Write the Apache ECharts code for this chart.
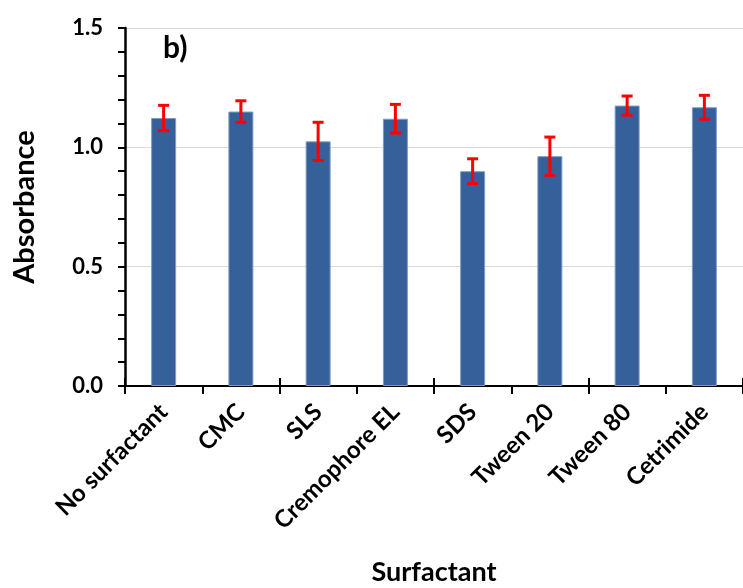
<!doctype html>
<html lang="en">
<head>
    <meta charset="UTF-8">
    <title>Absorbance by surfactant</title>
    <style>
        body { margin: 0; background: #fff; }
        #main { width: 743px; height: 588px; }
    </style>
</head>
<body>
<div id="main"></div>
<script src="https://cdn.jsdelivr.net/npm/echarts@6/dist/echarts.min.js"></script>
<script>
    var categories = ['No surfactant', 'CMC', 'SLS', 'Cremophore EL', 'SDS', 'Tween 20', 'Tween 80', 'Cetrimide'];
    var absorbance = [1.123, 1.15, 1.025, 1.12, 0.90, 0.963, 1.175, 1.168];
    var errors = [0.053, 0.045, 0.08, 0.06, 0.052, 0.08, 0.04, 0.05];
    var yTicks = [0, 0.5, 1.0, 1.5];

    var font = 'Lato, "Open Sans", sans-serif';

    // error bar data: [index, low, high]
    var errData = absorbance.map(function (v, i) {
        return [i, v - errors[i], v + errors[i]];
    });

    var myChart = echarts.init(document.getElementById('main'));
    var option = {
        animation: false,
        grid: { left: 125, right: 0, top: 28, bottom: 202, outerBoundsMode: 'none' },
        graphic: [{
            type: 'text', left: 163, top: 33,
            style: { text: 'b)', font: 'bold 30px ' + font, fill: '#000' }
        }],
        xAxis: [{
            type: 'category',
            data: categories,
            name: 'Surfactant',
            nameLocation: 'middle',
            nameGap: 173,
            nameTextStyle: { fontFamily: font, fontWeight: 'bold', fontSize: 27, color: '#000' },
            axisLine: { show: true, lineStyle: { color: '#000', width: 2 } },
            axisTick: { show: true, length: 8, lineStyle: { color: '#000', width: 2 } },
            axisLabel: { rotate: 45, margin: 22, fontFamily: font, fontWeight: 'bold', fontSize: 24, color: '#000', interval: 0 }
        }, {
            type: 'category',
            data: categories,
            position: 'bottom',
            axisLine: { show: false },
            axisTick: { show: true, inside: true, length: 8, lineStyle: { color: '#000', width: 2 } },
            axisLabel: { show: false }
        }],
        yAxis: {
            type: 'value',
            min: yTicks[0],
            max: yTicks[yTicks.length - 1],
            interval: 0.5,
            name: 'Absorbance',
            nameLocation: 'middle',
            nameGap: 86,
            nameTextStyle: { fontFamily: font, fontWeight: 'bold', fontSize: 29, color: '#000' },
            axisLine: { show: true, lineStyle: { color: '#000', width: 2.5 } },
            axisTick: { show: true, length: 7, lineStyle: { color: '#000', width: 2 } },
            minorTick: { show: true, splitNumber: 5, length: 7, lineStyle: { color: '#000', width: 2 } },
            splitLine: { show: true, lineStyle: { color: '#d9d9d9', width: 1 } },
            axisLabel: {
                margin: 22, fontFamily: font, fontWeight: 'bold', fontSize: 22, color: '#000',
                formatter: function (v) { return v.toFixed(1); }
            }
        },
        series: [{
            type: 'bar',
            data: absorbance,
            barWidth: 25,
            itemStyle: { color: '#36609a', borderColor: '#7f9cc4', borderWidth: 1 }
        }, {
            type: 'custom',
            data: errData,
            z: 10,
            renderItem: function (params, api) {
                var x = api.value(0);
                var lo = api.coord([x, api.value(1)]);
                var hi = api.coord([x, api.value(2)]);
                var hw = 5.5;
                var st = { stroke: '#ff0000', lineWidth: 3 };
                return {
                    type: 'group',
                    children: [
                        { type: 'line', shape: { x1: hi[0], y1: hi[1], x2: lo[0], y2: lo[1] }, style: st },
                        { type: 'line', shape: { x1: hi[0] - hw, y1: hi[1], x2: hi[0] + hw, y2: hi[1] }, style: st },
                        { type: 'line', shape: { x1: lo[0] - hw, y1: lo[1], x2: lo[0] + hw, y2: lo[1] }, style: st }
                    ]
                };
            }
        }]
    };
    myChart.setOption(option);
</script>
</body>
</html>
